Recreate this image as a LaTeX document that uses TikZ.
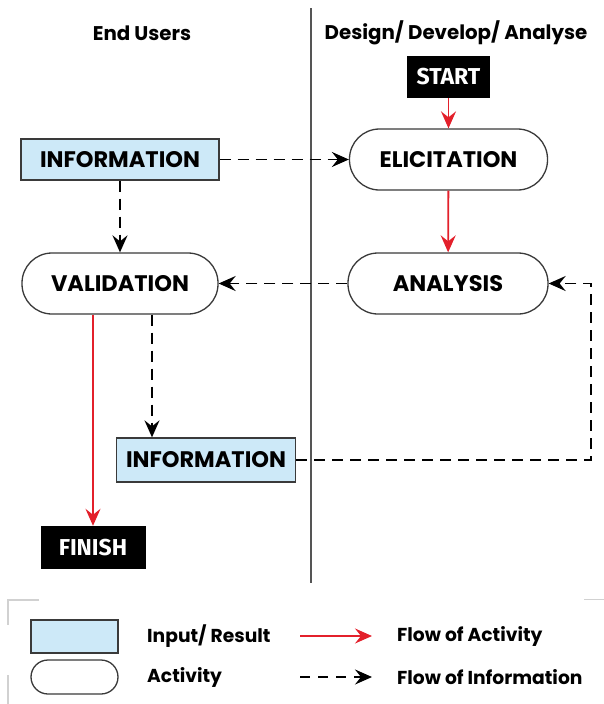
\documentclass[tikz,border=0pt]{standalone}
\usepackage{fontspec}
\setmainfont{Poppins}
\newfontfamily\termfont{Fira Sans}
\usetikzlibrary{arrows.meta,calc}

\definecolor{infoblue}{HTML}{CDE9F8}
\definecolor{flowred}{HTML}{E3202B}
\definecolor{edgegray}{HTML}{3A3A3A}
\definecolor{lanegray}{HTML}{555555}

\tikzset{
  boxtext/.style={font=\bfseries\fontsize{22.5}{23}\selectfont},
  headtext/.style={font=\bfseries\fontsize{19.8}{21}\selectfont},
  keytext/.style={font=\bfseries\fontsize{18.7}{20}\selectfont, anchor=west, inner sep=0pt},
  infobox/.style={boxtext, draw=edgegray, line width=1.3pt, fill=infoblue,
    minimum height=41pt, inner sep=0pt},
  actbox/.style={boxtext, draw=edgegray, line width=1.3pt, fill=white,
    rounded corners=30pt, minimum width=198pt, minimum height=61pt, inner sep=0pt},
  termbox/.style={font=\termfont\bfseries\fontsize{23}{23}\selectfont,
    fill=black, text=white, minimum height=42pt, inner sep=0pt},
  actflow/.style={draw=flowred, line width=1.8pt,
    -{Stealth[length=17pt,width=15pt,inset=6pt]}},
  infoflow/.style={draw=black, line width=1.9pt, dash pattern=on 11pt off 7pt,
    -{Stealth[length=17pt,width=15pt,inset=6pt]}},
  keyframe/.style={draw=black!18, line width=1.2pt}
}

\begin{document}
\begin{tikzpicture}[x=1pt,y=-1pt]
  \useasboundingbox (0,0) rectangle (604,704);

  % swim lane divider and headings
  \draw[lanegray, line width=1.5pt] (311,8) -- (311,583);
  \node[headtext] (hUsers) at (142,33) {End Users};
  \node[headtext] (hDesign) at (456,33) {Design/ Develop/ Analyse};

  % process nodes
  \node[termbox, minimum width=83pt] (start) at (448.5,77) {START};
  \node[actbox] (elic) at (448.5,159.5) {ELICITATION};
  \node[actbox, minimum width=200pt] (anal) at (448,283.5) {ANALYSIS};
  \node[infobox, minimum width=198pt] (info1) at (120,159.5) {INFORMATION};
  \node[actbox, minimum width=196pt] (valid) at (120,283.5) {VALIDATION};
  \node[infobox, minimum width=179pt, minimum height=44pt] (info2) at (206,460) {INFORMATION};
  \node[termbox, minimum width=105pt, minimum height=43pt] (finish) at (93,547.5) {FINISH};

  % flow of activity
  \draw[actflow] (start) -- (elic);
  \draw[actflow] (elic) -- (anal);
  \draw[actflow] (finish.north |- valid.south) -- (finish.north);

  % flow of information
  \draw[infoflow] (info1) -- (elic);
  \draw[infoflow] (info1) -- (valid);
  \draw[infoflow] (anal) -- (valid);
  \coordinate (vout) at ($(valid.south)+(32,0)$);
  \draw[infoflow] (vout) -- (vout |- info2.north);
  \coordinate (turn) at (591,460);
  \draw[infoflow] (info2.east) -- (turn) |- (anal.east);

  % legend frame remnants
  \draw[keyframe] (39,600) -- (8,600) -- (8,625);
  \draw[keyframe] (8,675) -- (8,704);
  \draw[keyframe] (584,599.5) -- (604,599.5);

  % legend
  \node[draw=edgegray, line width=1.3pt, fill=infoblue, minimum width=87pt,
    minimum height=33pt, inner sep=0pt] (kInfo) at (74.5,636.5) {};
  \node[draw=edgegray, line width=1.3pt, fill=white, rounded corners=17pt,
    minimum width=87pt, minimum height=34pt, inner sep=0pt] (kAct) at (74.5,677) {};
  \node[keytext] (kInfoTxt) at (147,636) {Input/ Result};
  \node[keytext] (kActTxt) at (147,677) {Activity};
  \coordinate (kRedA) at (300,636);
  \coordinate (kRedB) at (372,636);
  \draw[actflow] (kRedA) -- (kRedB);
  \coordinate (kDashA) at (300,677);
  \coordinate (kDashB) at (372,677);
  \draw[infoflow, dash pattern=on 10pt off 8pt] (kDashA) -- (kDashB);
  \node[keytext] (kRedTxt) at (397,636) {Flow of Activity};
  \node[keytext] (kDashTxt) at (397,677) {Flow of Information};
\end{tikzpicture}
\end{document}
